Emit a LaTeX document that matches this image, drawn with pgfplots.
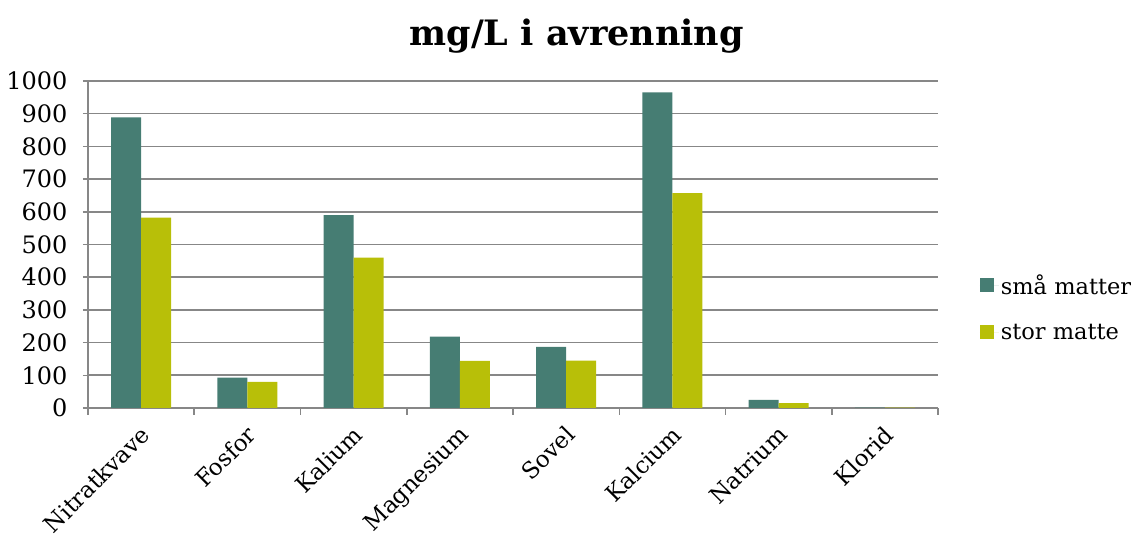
\documentclass[border=0pt]{standalone}
\usepackage{pgfplots}
\pgfplotsset{compat=1.18}
\usepackage{fontspec}
\setmainfont{DejaVu Serif}
\definecolor{teal1}{HTML}{467D73}
\definecolor{olive1}{HTML}{B8BF08}
\definecolor{gridg}{HTML}{878787}
\begin{document}
\begin{tikzpicture}
\useasboundingbox (-88pt,-132pt) rectangle (1048pt,408pt);
\begin{axis}[
  at={(0pt,0pt)}, anchor=south west,
  scale only axis,
  width=850pt, height=327pt,
  ybar=0pt, bar width=30pt,
  xmin=-0.5, xmax=7.5,
  ymin=0, ymax=1000,
  xtick={0,...,7},
  xticklabels={Nitratkvave,Fosfor,Kalium,Magnesium,Sovel,Kalcium,Natrium,Klorid},
  minor xtick={-0.5,0.5,...,7.5},
  ytick={0,100,...,1000},
  axis lines=left,
  axis line style={-, draw=gridg, line width=1.5pt},
  tick align=outside,
  major x tick style={draw=none},
  minor x tick style={draw=gridg, line width=1.5pt},
  major y tick style={draw=gridg, line width=1.5pt},
  major tick length=5pt,
  minor tick length=7pt,
  ymajorgrids,
  major grid style={draw=gridg, line width=1.6pt},
  /pgf/number format/assume math mode=true,
  /pgf/number format/1000 sep={},
  yticklabel style={font=\fontsize{24}{28}\selectfont, xshift=-12pt},
  xticklabel style={font=\fontsize{23}{27}\selectfont, rotate=45, anchor=north east, xshift=-6pt, yshift=-3pt},
  title={mg/L i avrenning},
  title style={font=\fontsize{35}{40}\selectfont\bfseries, at={(0.575,1)}, anchor=base, yshift=29pt},
  legend style={draw=none, fill=none, at={(1.049,0.307)}, anchor=west,
    font=\fontsize{22.5}{27}\selectfont, row sep=24pt, inner sep=0pt,
    legend cell align=left},
  legend image code/.code={\fill[#1] (0pt,-7pt) rectangle (14pt,7pt); \path (0pt,0pt) -- (19pt,0pt);},
]
\addplot[fill=teal1, draw=none] coordinates {(0,889) (1,93) (2,590) (3,218) (4,187) (5,965) (6,25) (7,1.5)};
\addplot[fill=olive1, draw=none] coordinates {(0,582) (1,80) (2,460) (3,144) (4,145) (5,657) (6,15) (7,1)};
\legend{små matter, stor matte}
\end{axis}
\end{tikzpicture}
\end{document}
